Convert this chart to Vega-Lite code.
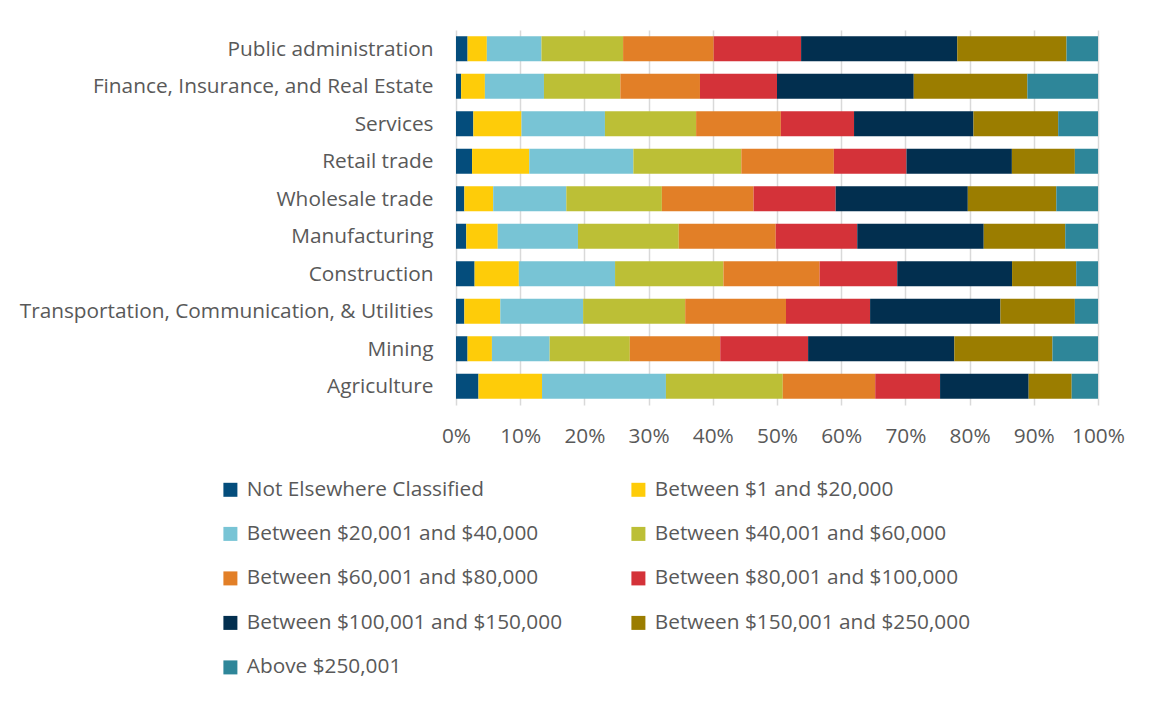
{
  "$schema": "https://vega.github.io/schema/vega-lite/v6.json",
  "width": 642,
  "height": 375,
  "autosize": {"type": "none"},
  "padding": {"left": 456, "top": 30, "right": 53, "bottom": 297},
  "background": "white",
  "datasets": {
    "rows": [
      {"industry": "Public administration", "rank": 1, "bracket": "Not Elsewhere Classified", "share": 1.8},
      {"industry": "Public administration", "rank": 2, "bracket": "Between $1 and $20,000", "share": 3.0},
      {"industry": "Public administration", "rank": 3, "bracket": "Between $20,001 and $40,000", "share": 8.5},
      {"industry": "Public administration", "rank": 4, "bracket": "Between $40,001 and $60,000", "share": 12.7},
      {"industry": "Public administration", "rank": 5, "bracket": "Between $60,001 and $80,000", "share": 14.1},
      {"industry": "Public administration", "rank": 6, "bracket": "Between $80,001 and $100,000", "share": 13.6},
      {"industry": "Public administration", "rank": 7, "bracket": "Between $100,001 and $150,000", "share": 24.3},
      {"industry": "Public administration", "rank": 8, "bracket": "Between $150,001 and $250,000", "share": 17.0},
      {"industry": "Public administration", "rank": 9, "bracket": "Above $250,001", "share": 4.9},
      {"industry": "Finance, Insurance, and Real Estate", "rank": 1, "bracket": "Not Elsewhere Classified", "share": 0.8},
      {"industry": "Finance, Insurance, and Real Estate", "rank": 2, "bracket": "Between $1 and $20,000", "share": 3.7},
      {"industry": "Finance, Insurance, and Real Estate", "rank": 3, "bracket": "Between $20,001 and $40,000", "share": 9.2},
      {"industry": "Finance, Insurance, and Real Estate", "rank": 4, "bracket": "Between $40,001 and $60,000", "share": 11.9},
      {"industry": "Finance, Insurance, and Real Estate", "rank": 5, "bracket": "Between $60,001 and $80,000", "share": 12.4},
      {"industry": "Finance, Insurance, and Real Estate", "rank": 6, "bracket": "Between $80,001 and $100,000", "share": 12.0},
      {"industry": "Finance, Insurance, and Real Estate", "rank": 7, "bracket": "Between $100,001 and $150,000", "share": 21.3},
      {"industry": "Finance, Insurance, and Real Estate", "rank": 8, "bracket": "Between $150,001 and $250,000", "share": 17.7},
      {"industry": "Finance, Insurance, and Real Estate", "rank": 9, "bracket": "Above $250,001", "share": 11.0},
      {"industry": "Services", "rank": 1, "bracket": "Not Elsewhere Classified", "share": 2.7},
      {"industry": "Services", "rank": 2, "bracket": "Between $1 and $20,000", "share": 7.5},
      {"industry": "Services", "rank": 3, "bracket": "Between $20,001 and $40,000", "share": 13.0},
      {"industry": "Services", "rank": 4, "bracket": "Between $40,001 and $60,000", "share": 14.2},
      {"industry": "Services", "rank": 5, "bracket": "Between $60,001 and $80,000", "share": 13.2},
      {"industry": "Services", "rank": 6, "bracket": "Between $80,001 and $100,000", "share": 11.4},
      {"industry": "Services", "rank": 7, "bracket": "Between $100,001 and $150,000", "share": 18.6},
      {"industry": "Services", "rank": 8, "bracket": "Between $150,001 and $250,000", "share": 13.2},
      {"industry": "Services", "rank": 9, "bracket": "Above $250,001", "share": 6.2},
      {"industry": "Retail trade", "rank": 1, "bracket": "Not Elsewhere Classified", "share": 2.5},
      {"industry": "Retail trade", "rank": 2, "bracket": "Between $1 and $20,000", "share": 8.9},
      {"industry": "Retail trade", "rank": 3, "bracket": "Between $20,001 and $40,000", "share": 16.2},
      {"industry": "Retail trade", "rank": 4, "bracket": "Between $40,001 and $60,000", "share": 16.8},
      {"industry": "Retail trade", "rank": 5, "bracket": "Between $60,001 and $80,000", "share": 14.4},
      {"industry": "Retail trade", "rank": 6, "bracket": "Between $80,001 and $100,000", "share": 11.3},
      {"industry": "Retail trade", "rank": 7, "bracket": "Between $100,001 and $150,000", "share": 16.4},
      {"industry": "Retail trade", "rank": 8, "bracket": "Between $150,001 and $250,000", "share": 9.8},
      {"industry": "Retail trade", "rank": 9, "bracket": "Above $250,001", "share": 3.6},
      {"industry": "Wholesale trade", "rank": 1, "bracket": "Not Elsewhere Classified", "share": 1.3},
      {"industry": "Wholesale trade", "rank": 2, "bracket": "Between $1 and $20,000", "share": 4.5},
      {"industry": "Wholesale trade", "rank": 3, "bracket": "Between $20,001 and $40,000", "share": 11.4},
      {"industry": "Wholesale trade", "rank": 4, "bracket": "Between $40,001 and $60,000", "share": 14.9},
      {"industry": "Wholesale trade", "rank": 5, "bracket": "Between $60,001 and $80,000", "share": 14.3},
      {"industry": "Wholesale trade", "rank": 6, "bracket": "Between $80,001 and $100,000", "share": 12.8},
      {"industry": "Wholesale trade", "rank": 7, "bracket": "Between $100,001 and $150,000", "share": 20.6},
      {"industry": "Wholesale trade", "rank": 8, "bracket": "Between $150,001 and $250,000", "share": 13.8},
      {"industry": "Wholesale trade", "rank": 9, "bracket": "Above $250,001", "share": 6.5},
      {"industry": "Manufacturing", "rank": 1, "bracket": "Not Elsewhere Classified", "share": 1.6},
      {"industry": "Manufacturing", "rank": 2, "bracket": "Between $1 and $20,000", "share": 4.9},
      {"industry": "Manufacturing", "rank": 3, "bracket": "Between $20,001 and $40,000", "share": 12.5},
      {"industry": "Manufacturing", "rank": 4, "bracket": "Between $40,001 and $60,000", "share": 15.7},
      {"industry": "Manufacturing", "rank": 5, "bracket": "Between $60,001 and $80,000", "share": 15.1},
      {"industry": "Manufacturing", "rank": 6, "bracket": "Between $80,001 and $100,000", "share": 12.7},
      {"industry": "Manufacturing", "rank": 7, "bracket": "Between $100,001 and $150,000", "share": 19.7},
      {"industry": "Manufacturing", "rank": 8, "bracket": "Between $150,001 and $250,000", "share": 12.7},
      {"industry": "Manufacturing", "rank": 9, "bracket": "Above $250,001", "share": 5.1},
      {"industry": "Construction", "rank": 1, "bracket": "Not Elsewhere Classified", "share": 2.9},
      {"industry": "Construction", "rank": 2, "bracket": "Between $1 and $20,000", "share": 6.9},
      {"industry": "Construction", "rank": 3, "bracket": "Between $20,001 and $40,000", "share": 15.0},
      {"industry": "Construction", "rank": 4, "bracket": "Between $40,001 and $60,000", "share": 16.9},
      {"industry": "Construction", "rank": 5, "bracket": "Between $60,001 and $80,000", "share": 15.0},
      {"industry": "Construction", "rank": 6, "bracket": "Between $80,001 and $100,000", "share": 12.1},
      {"industry": "Construction", "rank": 7, "bracket": "Between $100,001 and $150,000", "share": 17.9},
      {"industry": "Construction", "rank": 8, "bracket": "Between $150,001 and $250,000", "share": 10.0},
      {"industry": "Construction", "rank": 9, "bracket": "Above $250,001", "share": 3.4},
      {"industry": "Transportation, Communication, & Utilities", "rank": 1, "bracket": "Not Elsewhere Classified", "share": 1.3},
      {"industry": "Transportation, Communication, & Utilities", "rank": 2, "bracket": "Between $1 and $20,000", "share": 5.6},
      {"industry": "Transportation, Communication, & Utilities", "rank": 3, "bracket": "Between $20,001 and $40,000", "share": 12.9},
      {"industry": "Transportation, Communication, & Utilities", "rank": 4, "bracket": "Between $40,001 and $60,000", "share": 15.9},
      {"industry": "Transportation, Communication, & Utilities", "rank": 5, "bracket": "Between $60,001 and $80,000", "share": 15.7},
      {"industry": "Transportation, Communication, & Utilities", "rank": 6, "bracket": "Between $80,001 and $100,000", "share": 13.1},
      {"industry": "Transportation, Communication, & Utilities", "rank": 7, "bracket": "Between $100,001 and $150,000", "share": 20.3},
      {"industry": "Transportation, Communication, & Utilities", "rank": 8, "bracket": "Between $150,001 and $250,000", "share": 11.6},
      {"industry": "Transportation, Communication, & Utilities", "rank": 9, "bracket": "Above $250,001", "share": 3.6},
      {"industry": "Mining", "rank": 1, "bracket": "Not Elsewhere Classified", "share": 1.8},
      {"industry": "Mining", "rank": 2, "bracket": "Between $1 and $20,000", "share": 3.8},
      {"industry": "Mining", "rank": 3, "bracket": "Between $20,001 and $40,000", "share": 9.0},
      {"industry": "Mining", "rank": 4, "bracket": "Between $40,001 and $60,000", "share": 12.5},
      {"industry": "Mining", "rank": 5, "bracket": "Between $60,001 and $80,000", "share": 14.1},
      {"industry": "Mining", "rank": 6, "bracket": "Between $80,001 and $100,000", "share": 13.7},
      {"industry": "Mining", "rank": 7, "bracket": "Between $100,001 and $150,000", "share": 22.8},
      {"industry": "Mining", "rank": 8, "bracket": "Between $150,001 and $250,000", "share": 15.3},
      {"industry": "Mining", "rank": 9, "bracket": "Above $250,001", "share": 7.1},
      {"industry": "Agriculture", "rank": 1, "bracket": "Not Elsewhere Classified", "share": 3.5},
      {"industry": "Agriculture", "rank": 2, "bracket": "Between $1 and $20,000", "share": 9.9},
      {"industry": "Agriculture", "rank": 3, "bracket": "Between $20,001 and $40,000", "share": 19.3},
      {"industry": "Agriculture", "rank": 4, "bracket": "Between $40,001 and $60,000", "share": 18.2},
      {"industry": "Agriculture", "rank": 5, "bracket": "Between $60,001 and $80,000", "share": 14.4},
      {"industry": "Agriculture", "rank": 6, "bracket": "Between $80,001 and $100,000", "share": 10.1},
      {"industry": "Agriculture", "rank": 7, "bracket": "Between $100,001 and $150,000", "share": 13.8},
      {"industry": "Agriculture", "rank": 8, "bracket": "Between $150,001 and $250,000", "share": 6.7},
      {"industry": "Agriculture", "rank": 9, "bracket": "Above $250,001", "share": 4.1}
    ]
  },
  "data": {"name": "rows"},
  "mark": {"type": "bar"},
  "encoding": {
    "y": {
      "field": "industry",
      "type": "nominal",
      "sort": ["Public administration", "Finance, Insurance, and Real Estate", "Services", "Retail trade", "Wholesale trade", "Manufacturing", "Construction", "Transportation, Communication, & Utilities", "Mining", "Agriculture"],
      "scale": {"paddingInner": 0.333, "paddingOuter": 0.1665},
      "axis": {"title": null, "ticks": false, "domain": false, "labelPadding": 23, "labelFontSize": 20.8, "labelFont": "Open Sans", "labelColor": "#595959", "labelLimit": 500, "labelOffset": 1}
    },
    "x": {
      "field": "share",
      "type": "quantitative",
      "stack": "normalize",
      "scale": {"domain": [0, 1], "nice": false},
      "axis": {"title": null, "format": ".0%", "values": [0, 0.1, 0.2, 0.3, 0.4, 0.5, 0.6, 0.7, 0.8, 0.9, 1], "ticks": false, "domain": false, "grid": true, "gridColor": "#d9d9d9", "gridWidth": 1.5, "labelPadding": 21, "labelFontSize": 20.8, "labelFont": "Open Sans", "labelColor": "#595959", "labelFlush": false, "labelOverlap": false}
    },
    "order": {"field": "rank", "type": "quantitative", "sort": "ascending"},
    "color": {
      "field": "bracket",
      "type": "nominal",
      "sort": ["Not Elsewhere Classified", "Between $1 and $20,000", "Between $20,001 and $40,000", "Between $40,001 and $60,000", "Between $60,001 and $80,000", "Between $80,001 and $100,000", "Between $100,001 and $150,000", "Between $150,001 and $250,000", "Above $250,001"],
      "scale": {
        "domain": ["Not Elsewhere Classified", "Between $1 and $20,000", "Between $20,001 and $40,000", "Between $40,001 and $60,000", "Between $60,001 and $80,000", "Between $80,001 and $100,000", "Between $100,001 and $150,000", "Between $150,001 and $250,000", "Above $250,001"],
        "range": ["#044d7c", "#fecc09", "#78c4d5", "#bcbf36", "#e27f27", "#d43239", "#022f4f", "#9b7d00", "#2e8699"]
      },
      "legend": {
        "title": null,
        "orient": "none",
        "legendX": -236,
        "legendY": 449,
        "columns": 2,
        "direction": "horizontal",
        "symbolType": "square",
        "symbolSize": 196,
        "symbolStrokeWidth": 0,
        "labelFontSize": 20.8,
        "labelFont": "Open Sans",
        "labelColor": "#595959",
        "labelOffset": 6,
        "labelLimit": 500,
        "rowPadding": 22.5,
        "columnPadding": 65
      }
    }
  },
  "config": {
    "view": {"stroke": null}
  }
}
